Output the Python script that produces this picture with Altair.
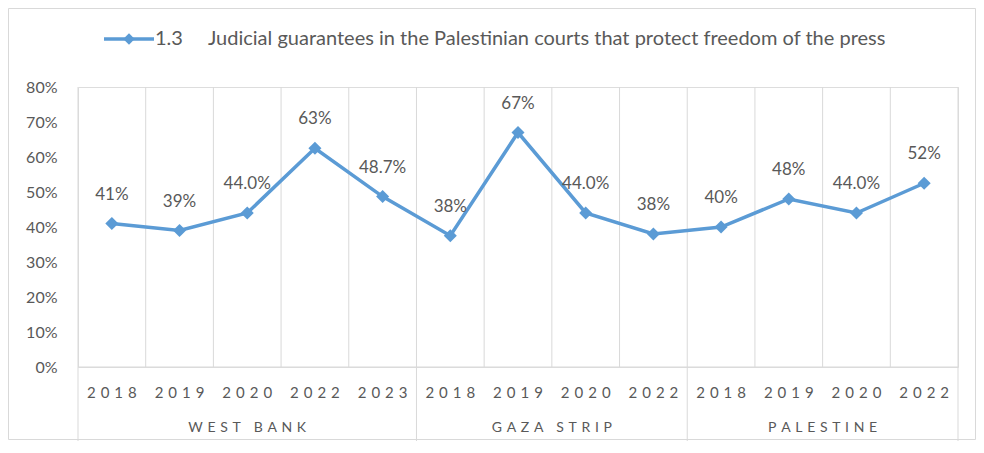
import altair as alt
import pandas as pd

# ---- data ----
REGIONS = ["WEST BANK"] * 5 + ["GAZA STRIP"] * 4 + ["PALESTINE"] * 4
YEARS = ["2018", "2019", "2020", "2022", "2023",
         "2018", "2019", "2020", "2022",
         "2018", "2019", "2020", "2022"]
VALUES = [0.41, 0.39, 0.44, 0.625, 0.487,
          0.375, 0.67, 0.44, 0.38,
          0.40, 0.48, 0.44, 0.525]
LABELS = ["41%", "39%", "44.0%", "63%", "48.7%",
          "38%", "67%", "44.0%", "38%",
          "40%", "48%", "44.0%", "52%"]
SERIES_NUM = "1.3"
SERIES_NAME = "Judicial guarantees in the Palestinian courts that protect freedom of the press"
Y_TICKS = [0, 0.1, 0.2, 0.3, 0.4, 0.5, 0.6, 0.7, 0.8]

BLUE = "#5B9BD5"
GRAY_TXT = "#595959"
GRID = "#D9D9D9"
FONT = "Lato"
W, H = 880, 280
SP = "\u2004"  # letter-spacing substitute

n = len(YEARS)
df = pd.DataFrame({
    "idx": list(range(n)),
    "region": REGIONS,
    "year": [SP.join(y) for y in YEARS],
    "value": VALUES,
    "label": LABELS,
})
df["region_sp"] = [SP.join(r) for r in REGIONS]

# category boundaries (gridlines) and group separators
bounds = pd.DataFrame({"b": [i - 0.5 for i in range(n + 1)]})
seps = [-0.5]
for i in range(1, n):
    if REGIONS[i] != REGIONS[i - 1]:
        seps.append(i - 0.5)
seps.append(n - 0.5)
sep_df = pd.DataFrame({"b": seps})

xs = alt.Scale(domain=[-0.5, n - 0.5], nice=False, zero=False)
ys = alt.Scale(domain=[0, 0.8], nice=False)
Y_AXIS = alt.Axis(
    format="%", values=Y_TICKS, grid=False, domain=False, ticks=False,
    labelFontSize=16, labelColor=GRAY_TXT, labelFont=FONT, labelPadding=21,
    labelOverlap=False, labelBound=False, labelFlush=False,
    title=None, zindex=2)

base = alt.Chart(df)

frame = alt.Chart(alt.Data(values=[{}])).mark_rect(
    fill="transparent", stroke="#D9D9D9", strokeWidth=1
).encode(
    x=alt.value(-69.5), x2=alt.value(W + 17.5), y=alt.value(-78.5), y2=alt.value(H + 72.5),
)
grid = alt.Chart(bounds).mark_rule(color=GRID, strokeWidth=1).encode(
    x=alt.X("b:Q", scale=xs, axis=None),
    y=alt.value(0), y2=alt.value(H),
)
sep = alt.Chart(sep_df).mark_rule(color=GRID, strokeWidth=1).encode(
    x=alt.X("b:Q", scale=xs, axis=None),
    y=alt.value(H), y2=alt.value(H + 76),
)
baseline = alt.Chart(alt.Data(values=[{"value": 0}])).mark_rule(color=GRID, strokeWidth=1).encode(
    y=alt.Y("value:Q", scale=ys, axis=Y_AXIS),
    x=alt.value(0), x2=alt.value(W),
)

line = base.mark_line(color=BLUE, strokeWidth=3.5).encode(
    x=alt.X("idx:Q", scale=xs, axis=None),
    y=alt.Y("value:Q", scale=ys, axis=Y_AXIS),
)
pts = base.mark_point(shape="diamond", filled=True, size=170, color=BLUE, opacity=1).encode(
    x=alt.X("idx:Q", scale=xs, axis=None),
    y=alt.Y("value:Q", scale=ys, axis=Y_AXIS),
)
lbl = base.mark_text(dy=-29, fontSize=17, color=GRAY_TXT, font=FONT).encode(
    x=alt.X("idx:Q", scale=xs, axis=None),
    y=alt.Y("value:Q", scale=ys, axis=Y_AXIS),
    text="label:N",
)
yr = base.mark_text(fontSize=15, color=GRAY_TXT, font=FONT, baseline="middle").encode(
    x=alt.X("idx:Q", scale=xs, axis=None),
    y=alt.value(H + 26),
    text="year:N",
)
reg = base.transform_aggregate(
    c="mean(idx)", groupby=["region_sp"]
).mark_text(fontSize=14, color=GRAY_TXT, font=FONT, baseline="middle").encode(
    x=alt.X("c:Q", scale=xs, axis=None),
    y=alt.value(H + 61),
    text="region_sp:N",
)

one = alt.Data(values=[{"t": SERIES_NUM + "\u00a0" * 5 + SERIES_NAME}])
leg_line = alt.Chart(one).mark_rule(color=BLUE, strokeWidth=3.5).encode(
    x=alt.value(26), x2=alt.value(76), y=alt.value(-48),
)
leg_pt = alt.Chart(one).mark_point(shape="diamond", filled=True, size=130, color=BLUE, opacity=1).encode(
    x=alt.value(51), y=alt.value(-48),
)
leg_txt = alt.Chart(one).mark_text(align="left", baseline="middle", fontSize=20, color=GRAY_TXT, font=FONT).encode(
    x=alt.value(77), y=alt.value(-48), text="t:N",
)

chart = alt.layer(
    frame, grid, sep, baseline, line, pts, lbl, yr, reg, leg_line, leg_pt, leg_txt
).properties(
    width=W, height=H,
    autosize=alt.AutoSizeParams(type="none"),
    padding={"left": 70, "top": 79, "right": 18, "bottom": 74},
).configure_view(stroke=None).configure(background="white")

chart.save("out.html", embed_options={"renderer": "svg", "actions": False})
